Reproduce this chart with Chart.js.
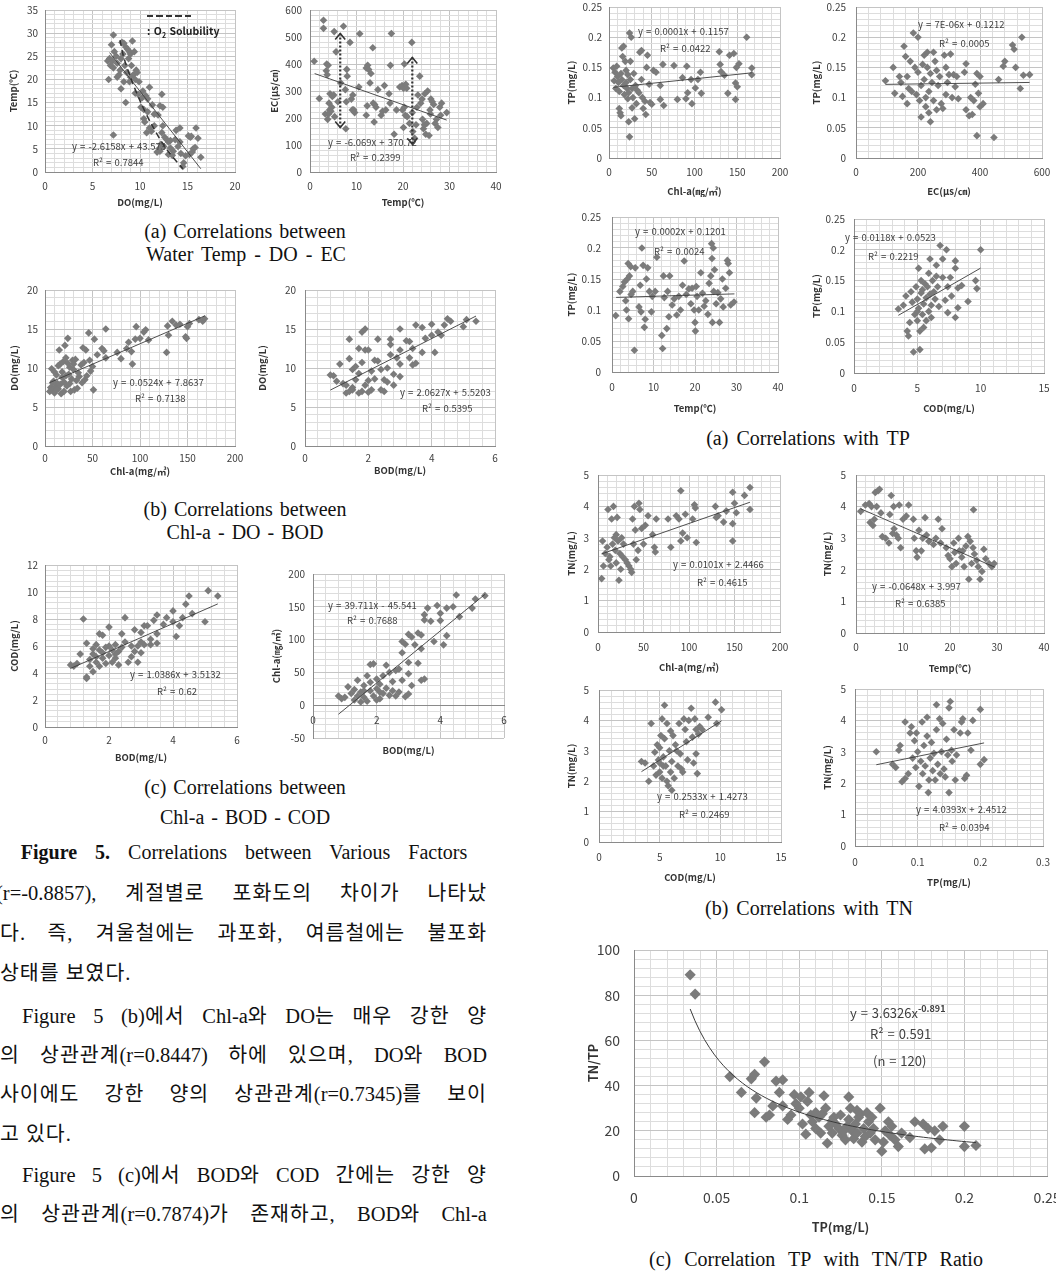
<!DOCTYPE html>
<html>
<head>
<meta charset="utf-8">
<script src="https://cdn.jsdelivr.net/npm/chart.js@4.4.0/dist/chart.umd.min.js"></script>
<style>
  body { margin: 0; width: 1056px; height: 1274px; position: relative; background: #fff; overflow: hidden; }
  canvas { position: absolute; }
  .note { position: absolute; white-space: pre; font-family: "Noto Sans CJK KR", "Noto Sans", sans-serif; color: #404040; word-spacing: 1px; }
  .cap { position: absolute; font-family: "Liberation Serif", "Times New Roman", serif; font-size: 20px; line-height: 24px; color: #111; text-align: center; white-space: pre; }
  .line { position: absolute; font-family: "Liberation Serif", "Noto Sans CJK KR", serif; font-size: 20.5px; line-height: 26px; letter-spacing: 1px; color: #111; text-align: justify; text-align-last: justify; }
  .line.last { text-align-last: left; }
  .line .lat { letter-spacing: 0; }
</style>
</head>
<body>
<script>
// ---- data: [x, y] pairs ----
const doTemp = [[7.2,29.6],[7.0,27.5],[7.3,26],[7.5,25],[7.1,24],[6.8,24.5],[6.6,24],[6.9,23],[7.2,22.5],[7.6,23.5],[7.9,22],[8.1,28],[8.3,27.8],[8.5,27],[8.7,26.5],[8.9,26],[8.2,25.5],[8.0,24.5],[8.4,23],[8.6,21.5],[8.8,24.5],[9.0,25.5],[9.2,28.3],[9.4,26],[9.1,23],[9.3,21],[9.6,22],[9.7,21.5],[9.5,20],[8.9,19.5],[8.3,19.5],[7.6,20.5],[7.8,21],[9.9,19.5],[9.0,20.5],[6.7,20],[8.0,18],[8.5,15],[7.2,8],[9.5,17],[9.8,16.8],[10.3,17.5],[10.6,16.5],[11.0,18.3],[10.2,16],[10.8,15.8],[10.1,14],[10.4,13.5],[10.8,13],[11.3,14.5],[11.5,12.5],[12.1,14.3],[12.3,16.8],[12.4,14],[11.9,12.3],[10.4,11.5],[10.5,10.8],[10.7,8.5],[11.0,9.5],[11.5,10],[11.2,8.8],[12.4,10],[12.3,8.5],[12.6,7.5],[12.8,7],[13.0,6.5],[12.2,6],[12.0,5],[11.8,4.3],[12.1,4.5],[12.5,5.5],[13.2,5.2],[13.0,3.8],[13.4,3.6],[13.7,7],[13.8,9],[14.2,9.5],[13.5,4.5],[14.0,5.5],[14.3,4],[14.6,2],[14.5,1.2],[14.8,3.5],[15.1,7.8],[15.3,7.5],[15.4,7.7],[15.6,5],[15.8,5.3],[15.9,9.5],[16.1,7.3],[16.4,3.2],[15.5,4.3],[15.2,3.8],[14.2,6.5],[13.2,6.8]];
const o2Sol = [[7.9,28.5],[8.26,25],[9.09,20],[10.08,15],[11.29,10],[12.77,5],[14.5,0.7]];

const tempEc = [[0.9,410],[2,272],[2.9,562],[2.9,532],[3.6,400],[3.9,395],[3.5,375],[3.7,360],[3.3,215],[3.8,195],[4.2,230],[4.5,225],[4.1,255],[4.3,290],[4.8,280],[5.1,285],[5.2,520],[5.6,445],[4.0,215],[4.7,240],[5.3,205],[6.0,260],[6.6,330],[7.2,540],[7.6,305],[7.9,380],[8.0,355],[7.8,260],[7.7,160],[8.6,480],[8.9,270],[9.2,285],[9.4,230],[9.6,220],[9.1,230],[10.5,315],[10.7,512],[12.1,385],[12.4,395],[12.6,380],[12.9,330],[13.1,365],[13.5,460],[13.6,255],[13.9,250],[14.2,240],[14.6,305],[13.8,185],[12.1,210],[12.3,245],[15.3,210],[15.6,225],[16,320],[16.3,230],[17.0,290],[17.2,255],[17.3,395],[17.5,513],[18.1,140],[18.6,230],[19.3,315],[19.8,320],[20.1,310],[20.3,400],[20.6,325],[20.8,310],[19.9,230],[20.3,240],[20.5,210],[20.1,165],[20.9,205],[21.4,180],[21.9,480],[22.1,150],[22.5,125],[22.8,175],[22.0,220],[23.0,240],[23.2,285],[23.6,355],[23.8,255],[24.1,270],[24.4,160],[24.6,175],[24.9,140],[24.2,195],[25.1,180],[25.3,300],[25.6,135],[25.8,230],[26.0,270],[26.3,260],[26.6,250],[26.9,180],[27.2,195],[27.5,165],[27.9,240],[28.3,255],[29.4,220],[28.1,210],[25.9,215],[24.7,290]];
const ecArrows = [[6.5,165,513],[22,103,424]];

const chlDo = [[5,7],[6,7.5],[7,9.9],[8,7.2],[9,8.3],[10,6.8],[11,7.6],[12,9.1],[13,8.0],[14,7.3],[15,12.3],[16,10.5],[17,6.7],[18,9.5],[19,10.8],[20,8.2],[21,12.9],[22,11.3],[23,7.7],[24,13.8],[25,9.2],[26,10.1],[27,7.0],[28,8.6],[29,11.0],[30,9.8],[31,7.2],[32,11.1],[33,8.4],[35,9.4],[36,8.9],[38,10.4],[39,8.1],[40,12.6],[41,10.7],[42,8.5],[43,12.3],[44,9.0],[46,14.5],[47,11.0],[48,9.6],[50,10.2],[51,7.2],[52,13.7],[55,11.7],[60,12.5],[62,12.2],[64,15.0],[64,11.3],[76,12.0],[80,11.2],[86,12.5],[88,13.3],[91,12.1],[92,10.5],[95,13.7],[96,15.3],[100,13.8],[104,14.6],[106,14.9],[109,13.6],[128,12.0],[129,15.4],[130,14.2],[134,16.0],[138,15.5],[142,15.6],[148,14.0],[149,13.8],[150,15.3],[152,15.7],[162,16.2],[166,16.0],[168,16.3],[10,9.5],[14,10.3],[18,8.8],[22,9.0],[26,8.0],[8,8.1],[12,7.2],[16,7.9],[20,7.0],[24,10.6],[30,10.5],[34,7.4]];

const bodDo = [[0.8,9.1],[0.9,9.0],[1.0,8.3],[1.1,10.5],[1.3,7.8],[1.4,13.7],[1.4,11.2],[1.5,9.8],[1.3,6.8],[1.4,7.0],[1.5,7.5],[1.6,8.5],[1.6,10.2],[1.7,12.5],[1.7,9.3],[1.8,10.7],[1.8,14.6],[1.9,15.0],[1.9,12.3],[1.8,7.0],[1.9,7.8],[2.0,8.4],[2.0,6.9],[2.0,12.3],[2.1,9.6],[2.1,7.2],[2.2,11.0],[2.3,13.7],[2.3,10.9],[2.2,8.6],[2.4,9.8],[2.4,7.2],[2.5,7.0],[2.5,8.5],[2.6,10.0],[2.7,13.7],[2.7,13.0],[2.7,11.7],[2.8,9.2],[2.8,7.8],[2.9,11.3],[3.0,12.3],[3.0,10.5],[3.0,8.9],[3.0,15.0],[3.2,13.5],[3.3,13.4],[3.3,11.3],[3.4,12.5],[3.4,10.4],[3.5,15.5],[3.5,10.6],[3.7,15.2],[3.7,12.0],[3.8,13.8],[4.0,15.6],[4.0,14.2],[4.1,12.0],[4.2,14.6],[4.3,14.2],[4.4,15.5],[4.5,16.3],[4.6,16.0],[5.0,15.3],[5.1,16.2],[5.4,16.0],[1.5,7.2],[1.7,6.8],[1.2,8.0],[2.6,8.2]];

const bodCod = [[0.8,4.6],[0.9,4.5],[1.0,4.7],[1.1,5.4],[1.2,8.0],[1.3,6.2],[1.3,3.7],[1.3,3.6],[1.4,4.5],[1.4,5.0],[1.5,5.4],[1.5,4.1],[1.6,6.1],[1.6,4.8],[1.7,5.7],[1.7,6.9],[1.7,4.5],[1.8,6.8],[1.8,5.1],[1.9,5.9],[1.9,4.7],[2.0,7.4],[2.0,6.0],[2.0,5.3],[2.1,5.7],[2.1,4.8],[2.2,5.1],[2.2,6.1],[2.3,5.6],[2.3,4.6],[2.4,6.9],[2.4,5.9],[2.5,8.1],[2.5,6.3],[2.6,4.8],[2.7,5.2],[2.7,6.0],[2.8,7.2],[2.8,5.6],[2.9,6.0],[2.9,4.8],[3.0,7.0],[3.0,5.5],[3.0,6.3],[3.1,7.5],[3.1,6.1],[3.2,7.5],[3.3,6.5],[3.3,6.1],[3.4,7.9],[3.5,8.3],[3.5,6.9],[3.5,6.2],[3.7,7.6],[3.8,8.1],[4.0,8.6],[4.0,7.8],[4.1,6.7],[4.2,7.5],[4.3,8.1],[4.4,9.1],[4.5,9.7],[4.6,8.4],[5.0,7.8],[5.1,10.1],[5.4,9.7],[1.5,5.8],[1.8,5.5],[2.2,5.4],[1.6,5.2]];

const bodChl = [[0.8,14],[0.9,10],[1.0,12],[1.1,28],[1.2,18],[1.3,8],[1.3,24],[1.4,14],[1.4,38],[1.5,5],[1.5,20],[1.6,12],[1.6,30],[1.7,45],[1.7,6],[1.8,62],[1.8,22],[1.8,35],[1.9,63],[1.9,14],[2.0,40],[2.0,25],[2.1,10],[2.1,32],[2.2,18],[2.2,45],[2.3,61],[2.3,26],[2.4,50],[2.4,15],[2.5,36],[2.5,22],[2.6,53],[2.6,14],[2.7,55],[2.7,20],[2.8,38],[2.8,97],[2.8,80],[2.9,93],[2.9,13],[3.0,48],[3.0,65],[3.0,108],[3.0,17],[3.1,104],[3.1,30],[3.2,92],[3.3,110],[3.3,64],[3.4,107],[3.4,86],[3.4,38],[3.5,40],[3.5,130],[3.5,138],[3.6,148],[3.7,128],[3.8,97],[3.9,152],[4.0,140],[4.0,129],[4.1,92],[4.2,148],[4.2,106],[4.4,150],[4.5,168],[4.6,135],[5.0,148],[5.1,162],[5.4,167],[2.0,8],[1.6,22],[2.1,20]];

const chlTp = [[5,0.149],[6,0.128],[7,0.142],[8,0.115],[9,0.152],[10,0.135],[11,0.125],[12,0.082],[12,0.110],[13,0.075],[14,0.140],[14,0.070],[15,0.182],[15,0.130],[16,0.168],[17,0.185],[17,0.120],[18,0.105],[19,0.160],[20,0.145],[20,0.125],[21,0.115],[22,0.098],[22,0.138],[23,0.060],[23,0.108],[24,0.035],[24,0.207],[25,0.160],[25,0.130],[26,0.200],[27,0.083],[27,0.115],[28,0.100],[29,0.140],[30,0.065],[31,0.120],[32,0.090],[33,0.112],[35,0.108],[36,0.175],[38,0.178],[38,0.130],[39,0.100],[40,0.082],[42,0.094],[43,0.072],[44,0.150],[45,0.170],[47,0.122],[48,0.092],[50,0.089],[52,0.145],[55,0.142],[60,0.120],[60,0.097],[63,0.155],[64,0.087],[76,0.153],[80,0.097],[86,0.133],[90,0.098],[91,0.152],[92,0.108],[96,0.130],[97,0.090],[101,0.116],[104,0.130],[107,0.142],[108,0.107],[129,0.176],[130,0.155],[131,0.143],[135,0.137],[139,0.107],[141,0.170],[146,0.173],[148,0.124],[148,0.097],[149,0.150],[150,0.118],[152,0.156],[161,0.200],[167,0.149],[167,0.138]];

const ecTp = [[95,0.128],[120,0.150],[125,0.107],[140,0.135],[145,0.125],[150,0.102],[155,0.185],[160,0.168],[165,0.090],[165,0.135],[170,0.115],[175,0.160],[180,0.110],[185,0.207],[190,0.150],[195,0.105],[200,0.200],[200,0.142],[205,0.095],[210,0.120],[210,0.068],[215,0.155],[220,0.170],[220,0.130],[225,0.100],[225,0.085],[230,0.175],[230,0.150],[235,0.110],[235,0.075],[240,0.060],[240,0.140],[245,0.125],[250,0.175],[250,0.095],[255,0.160],[260,0.145],[260,0.080],[265,0.120],[270,0.135],[275,0.090],[280,0.082],[285,0.170],[290,0.150],[290,0.105],[295,0.125],[300,0.138],[305,0.172],[310,0.100],[315,0.138],[320,0.118],[325,0.135],[330,0.098],[350,0.142],[355,0.156],[355,0.080],[365,0.070],[370,0.100],[375,0.072],[380,0.095],[385,0.122],[390,0.140],[390,0.037],[395,0.107],[400,0.135],[400,0.085],[410,0.090],[445,0.034],[460,0.130],[475,0.152],[480,0.160],[505,0.187],[510,0.180],[515,0.150],[530,0.115],[535,0.200],[540,0.137],[560,0.138]];

const tempTp = [[0.9,0.091],[1.9,0.130],[2.6,0.138],[3,0.145],[3.3,0.115],[3.5,0.100],[3.7,0.150],[3.9,0.175],[4.0,0.086],[4.2,0.155],[4.5,0.170],[4.6,0.125],[5.0,0.130],[5.4,0.035],[5.6,0.168],[6.5,0.105],[6.8,0.140],[7.0,0.097],[7.2,0.200],[7.5,0.172],[7.8,0.072],[8.0,0.085],[8.3,0.150],[8.6,0.168],[9.0,0.130],[9.5,0.097],[9.7,0.122],[10.4,0.130],[10.8,0.185],[12.0,0.059],[12.2,0.038],[12.4,0.155],[12.6,0.120],[13.2,0.070],[13.4,0.130],[13.7,0.089],[13.9,0.155],[14.5,0.108],[15.0,0.118],[15.6,0.092],[16.1,0.122],[16.5,0.100],[17.0,0.140],[17.4,0.179],[17.9,0.125],[18.5,0.134],[19.0,0.110],[19.3,0.135],[19.8,0.100],[20.0,0.080],[20.1,0.066],[20.3,0.138],[20.5,0.122],[20.9,0.100],[21.4,0.160],[21.8,0.127],[22.2,0.106],[22.6,0.115],[23.1,0.093],[23.4,0.143],[23.8,0.155],[24.0,0.207],[24.1,0.183],[24.2,0.080],[24.4,0.200],[24.5,0.130],[24.7,0.165],[25.1,0.110],[25.5,0.128],[25.9,0.080],[26.2,0.118],[26.6,0.150],[26.8,0.105],[27.4,0.135],[27.8,0.180],[28.0,0.175],[28.3,0.160],[28.6,0.108],[29.4,0.113]];

const codTp = [[3.5,0.104],[3.9,0.110],[4.1,0.125],[4.2,0.068],[4.3,0.060],[4.4,0.082],[4.5,0.132],[4.6,0.115],[4.7,0.034],[4.8,0.095],[4.9,0.140],[5.0,0.120],[5.0,0.085],[5.1,0.170],[5.1,0.105],[5.2,0.038],[5.2,0.068],[5.3,0.150],[5.3,0.130],[5.4,0.095],[5.5,0.112],[5.5,0.074],[5.6,0.145],[5.7,0.122],[5.7,0.085],[5.8,0.140],[5.9,0.162],[5.9,0.100],[6.0,0.185],[6.0,0.128],[6.1,0.110],[6.2,0.150],[6.3,0.132],[6.5,0.175],[6.5,0.157],[6.6,0.140],[6.7,0.108],[6.8,0.207],[7.0,0.185],[7.0,0.155],[7.2,0.118],[7.3,0.200],[7.4,0.140],[7.4,0.098],[7.6,0.155],[7.7,0.125],[8.0,0.182],[8.0,0.170],[8.0,0.090],[8.2,0.106],[8.2,0.138],[8.5,0.142],[9.0,0.116],[9.6,0.150],[9.7,0.137],[10.0,0.200],[5.4,0.135],[6.1,0.090],[5.0,0.100],[6.4,0.120]];

const chlTn = [[4,1.7],[5,2.9],[6,2.1],[8,2.5],[10,2.7],[11,3.9],[12,2.3],[13,2.4],[14,2.1],[15,3.6],[16,2.8],[17,4.0],[18,3.0],[19,2.6],[20,3.1],[20,2.2],[21,3.65],[22,2.9],[23,1.65],[24,2.5],[25,2.0],[26,3.0],[27,2.4],[28,2.8],[30,2.3],[32,2.2],[34,2.1],[36,2.0],[37,1.9],[38,3.6],[39,2.8],[40,4.0],[41,3.25],[42,2.3],[44,2.6],[45,4.1],[46,3.9],[48,3.3],[50,2.8],[52,3.4],[55,3.7],[60,3.1],[62,2.7],[63,2.55],[64,3.6],[77,3.6],[80,2.7],[86,3.7],[89,3.6],[91,4.5],[91,2.9],[93,3.15],[96,3.75],[98,3.0],[104,3.6],[106,4.05],[107,3.95],[108,2.85],[129,4.0],[130,3.65],[132,3.7],[138,3.5],[141,3.85],[148,4.45],[148,3.45],[148,2.9],[150,4.1],[152,3.8],[161,4.35],[167,4.6],[167,3.9]];

const tempTn = [[1,3.85],[2,4.05],[2.8,4.1],[3.0,3.5],[3.3,4.0],[3.6,3.4],[3.9,3.6],[4.1,4.45],[4.4,4.0],[4.7,4.5],[5.0,4.55],[5.3,3.8],[5.6,3.05],[6.3,3.0],[7.0,2.85],[7.2,3.75],[7.5,4.35],[7.8,3.15],[8.0,4.0],[8.1,3.3],[8.6,3.1],[9.0,3.0],[9.2,4.05],[9.5,2.7],[10,3.6],[10.7,3.7],[11.2,4.05],[12.2,3.6],[12.4,3.0],[12.8,2.6],[13.0,2.4],[13.4,3.25],[13.9,2.6],[14.2,3.0],[14.7,3.65],[15.0,3.1],[15.5,2.9],[16.5,2.8],[17.0,3.0],[17.5,3.6],[18.0,2.85],[18.3,3.3],[19.2,2.7],[19.6,2.45],[20.0,2.35],[20.4,2.1],[20.8,2.85],[21.3,2.2],[21.8,3.0],[22.0,2.6],[22.5,2.4],[23.0,2.1],[23.4,2.75],[23.8,3.05],[24.0,1.7],[24.3,2.9],[24.6,2.2],[25.0,3.9],[25.2,2.5],[25.7,2.3],[26.0,2.1],[26.4,1.7],[26.8,1.95],[27.2,2.65],[27.6,2.35],[28.3,2.2],[28.9,2.1],[29.4,2.2],[22.7,2.6],[24.9,2.7],[21.0,2.55]];

const codTn = [[3.5,2.65],[3.8,2.6],[4.1,2.0],[4.3,3.9],[4.5,2.5],[4.6,2.95],[4.7,2.2],[4.8,3.2],[4.9,2.7],[5.0,3.1],[5.0,2.3],[5.1,3.5],[5.2,2.1],[5.2,4.05],[5.3,2.8],[5.4,4.5],[5.4,3.4],[5.5,2.5],[5.6,2.0],[5.6,3.9],[5.7,1.85],[5.8,3.0],[5.9,2.3],[5.9,3.65],[6.0,1.7],[6.0,2.65],[6.1,3.5],[6.2,2.1],[6.3,3.2],[6.5,2.5],[6.6,3.9],[6.7,2.9],[6.9,2.3],[7.0,4.05],[7.1,3.7],[7.3,2.7],[7.4,4.0],[7.6,4.4],[7.7,3.45],[7.8,2.6],[7.9,4.05],[8.0,3.7],[8.0,2.9],[8.1,2.25],[8.2,3.55],[8.5,3.7],[9.0,4.1],[9.6,4.6],[9.7,3.9],[10.1,4.35],[5.3,2.5],[6.4,3.0],[7.2,3.3],[8.3,3.8],[5.0,2.6],[6.8,2.4]];

const tpTn = [[0.034,3.0],[0.06,2.6],[0.065,2.5],[0.07,3.05],[0.072,3.2],[0.075,2.05],[0.08,2.15],[0.08,3.95],[0.085,2.3],[0.088,3.6],[0.09,3.8],[0.092,2.8],[0.095,3.35],[0.097,2.5],[0.098,3.6],[0.1,3.0],[0.102,1.9],[0.105,2.7],[0.107,3.95],[0.108,2.3],[0.11,3.2],[0.112,2.55],[0.115,4.1],[0.115,3.5],[0.117,1.7],[0.118,2.1],[0.12,2.8],[0.122,3.3],[0.124,2.4],[0.126,2.95],[0.128,2.1],[0.13,4.5],[0.13,3.7],[0.132,2.6],[0.135,4.05],[0.136,2.3],[0.138,3.0],[0.14,3.9],[0.142,2.45],[0.144,2.2],[0.146,3.4],[0.148,2.9],[0.15,1.7],[0.15,4.4],[0.152,4.6],[0.154,3.05],[0.155,2.7],[0.158,3.7],[0.16,2.1],[0.162,2.9],[0.168,3.6],[0.17,3.95],[0.172,4.05],[0.175,2.15],[0.178,2.25],[0.18,3.6],[0.185,3.05],[0.188,4.0],[0.2,4.35],[0.2,2.6],[0.206,2.75]];

const tpRatio = [[0.034,89],[0.037,80.5],[0.058,44],[0.065,37],[0.071,43],[0.073,45],[0.073,28],[0.074,34.5],[0.079,50.5],[0.08,26],[0.082,27],[0.084,31],[0.086,42],[0.088,37],[0.09,42.5],[0.09,31],[0.093,25],[0.095,27],[0.097,36],[0.098,32],[0.1,30],[0.101,35],[0.102,23],[0.104,18.5],[0.105,33],[0.106,37],[0.107,27],[0.108,24],[0.11,21],[0.112,26],[0.113,19],[0.114,27.5],[0.115,35.5],[0.116,30],[0.117,14.5],[0.118,22],[0.12,19],[0.121,26],[0.122,23],[0.124,21],[0.125,27],[0.126,18],[0.128,16],[0.129,22],[0.13,35],[0.13,25],[0.131,30],[0.132,20],[0.133,16.5],[0.134,23],[0.135,19],[0.136,26],[0.137,27.5],[0.138,15],[0.139,21],[0.14,17.5],[0.141,28],[0.142,24],[0.143,19],[0.144,26],[0.145,21],[0.149,30],[0.15,11],[0.151,15],[0.152,20],[0.154,24],[0.156,22],[0.158,16],[0.16,13],[0.162,19],[0.167,17],[0.17,24],[0.175,23],[0.176,12],[0.178,21],[0.18,12.5],[0.182,20],[0.185,16],[0.187,22],[0.2,22],[0.2,13],[0.207,13.5],[0.12,24.5],[0.11,28],[0.127,20],[0.146,16],[0.155,18],[0.135,29]];

// printed power fit for TN/TP
const powerFit = [3.6326, -0.891];
const powerRange = [0.034, 0.207];

const FONT = '"Noto Sans CJK KR", "Noto Sans", sans-serif';
Chart.defaults.font.family = FONT;

function isMajor(v, major) { const r = v / major; return Math.abs(r - Math.round(r)) < 1e-6; }
function fmt(v) { return String(Math.round(v * 1e6) / 1e6); }
function zero(s) { s.paddingLeft = 0; s.paddingRight = 0; s.paddingTop = 0; s.paddingBottom = 0; }
function pts(a) { return a.map(p => ({ x: p[0], y: p[1] })); }

function axis(r, size, pad) {
  const [min, max, minor, major] = r;
  return {
    type: 'linear', min, max,
    ticks: {
      stepSize: minor, autoSkip: false, maxRotation: 0, padding: pad, color: '#404040',
      font: { size }, callback: v => isMajor(v, major) ? fmt(v) : ''
    },
    grid: { drawTicks: false, lineWidth: 1, color: c => isMajor(c.tick.value, major) ? '#c4c4c4' : '#dddddd' },
    border: { color: '#8a8a8a' }
  };
}

function note(x, y, text, size, extra) {
  const d = document.createElement('div');
  d.className = 'note';
  d.innerHTML = text;
  d.style.left = x + 'px';
  d.style.top = (y - size * 0.7) + 'px';
  d.style.fontSize = size + 'px';
  d.style.lineHeight = (size * 1.4) + 'px';
  if (extra) Object.assign(d.style, extra);
  document.body.appendChild(d);
}

const arrowPlugin = {
  id: 'arrows',
  afterDatasetsDraw(chart) {
    const { ctx, scales: { x, y } } = chart;
    ctx.save();
    ctx.strokeStyle = '#333';
    ecArrows.forEach(a => {
      const px = x.getPixelForValue(a[0]);
      const lo = y.getPixelForValue(a[1]), hi = y.getPixelForValue(a[2]);
      ctx.lineWidth = 2.2; ctx.setLineDash([2, 2]);
      ctx.beginPath(); ctx.moveTo(px, hi); ctx.lineTo(px, lo); ctx.stroke();
      ctx.setLineDash([]); ctx.lineWidth = 1.6;
      ctx.beginPath(); ctx.moveTo(px - 5, hi + 6); ctx.lineTo(px, hi); ctx.lineTo(px + 5, hi + 6); ctx.stroke();
      ctx.beginPath(); ctx.moveTo(px - 5, lo - 6); ctx.lineTo(px, lo); ctx.lineTo(px + 5, lo - 6); ctx.stroke();
    });
    ctx.restore();
  }
};

function build(c) {
  const big = !!c.big;
  const tk = big ? 14 : 10, ts = big ? 12.5 : 9.5;
  const cl = Math.round(c.yTitleX - ts * 0.6);
  const ct = c.T - 10;
  const cr = c.R + 18;
  const cb = Math.round(c.xTitleY + ts * 0.6);
  const yw = c.L - cl, xh = cb - c.B;
  const cv = document.createElement('canvas');
  cv.width = cr - cl; cv.height = cb - ct;
  cv.style.left = cl + 'px'; cv.style.top = ct + 'px';
  document.body.appendChild(cv);

  const datasets = [{
    data: pts(c.pts), pointStyle: 'rectRot', pointRadius: big ? 5.6 : 3.8,
    backgroundColor: '#7b7b7b', borderWidth: 0, hoverRadius: 0, order: 2
  }];
  if (c.fit) datasets.push({ type: 'line', data: pts(c.fit), borderColor: '#3c3c3c', borderWidth: 0.9, pointRadius: 0, fill: false, tension: 0, order: 1 });
  (c.extra || []).forEach(d => datasets.push(Object.assign({ order: 0 }, d)));

  const titleFont = { size: ts, weight: 'bold' };
  const x = axis(c.x, tk, c.xPad !== undefined ? c.xPad : c.xLabY - c.B - tk * 0.6);
  const y = axis(c.y, tk, c.L - c.yLabR);
  y.title = { display: true, text: c.yTitle, font: titleFont, color: '#333', padding: 0 };
  y.afterFit = s => { s.width = yw; zero(s); };
  const scales = { x, y };
  if (c.xAtZero) {
    x.position = { y: 0 };
    scales.x2 = {
      type: 'linear', position: 'bottom', min: c.x[0], max: c.x[1],
      ticks: { display: false }, grid: { display: false, drawTicks: false }, border: { display: false },
      title: { display: true, text: c.xTitle, font: titleFont, color: '#333', padding: 0 },
      afterFit: s => { s.height = xh; zero(s); }
    };
  } else {
    x.title = { display: true, text: c.xTitle, font: titleFont, color: '#333', padding: 0 };
    x.afterFit = s => { s.height = xh; zero(s); };
  }

  new Chart(cv, {
    type: 'scatter',
    data: { datasets },
    options: {
      responsive: false, animation: false, devicePixelRatio: 1, events: [],
      layout: { padding: { top: c.T - ct, right: cr - c.R, left: 0, bottom: 0 } },
      plugins: { legend: { display: false }, tooltip: { enabled: false } },
      scales
    },
    plugins: c.plugins || []
  });
  (c.eq || []).forEach(e => note(e[0], e[1], e[2], big ? 13 : 9.5));
}

const charts = [
  { pts: doTemp, L: 45, R: 235, T: 10, B: 172, yTitleX: 14, yLabR: 38, xLabY: 186, xTitleY: 202,
    x: [0, 20, 1, 5], y: [0, 35, 1, 5], xTitle: 'DO(mg/L)', yTitle: 'Temp(℃)',
    fit: [[6.8, 25.8], [16.4, 0.7]],
    extra: [{ type: 'line', data: pts(o2Sol), borderColor: '#333', borderWidth: 1.5, borderDash: [6, 4], pointRadius: 0, fill: false, tension: 0.3 }],
    eq: [[72, 147, 'y = -2.6158x + 43.573'], [93, 163, 'R² = 0.7844']] },
  { pts: tempEc, L: 310, R: 496, T: 10, B: 172, yTitleX: 275, yLabR: 302, xLabY: 186, xTitleY: 202,
    x: [0, 40, 2, 10], y: [0, 600, 20, 100], xTitle: 'Temp(℃)', yTitle: 'EC(μs/㎝)',
    fit: [[1, 364.6], [29.4, 192.3]], plugins: [arrowPlugin],
    eq: [[328, 143, 'y = -6.069x + 370.72'], [350, 158, 'R² = 0.2399']] },
  { pts: chlDo, L: 45, R: 235, T: 290, B: 446, yTitleX: 15, yLabR: 38, xLabY: 458, xTitleY: 471,
    x: [0, 200, 10, 50], y: [0, 20, 1, 5], xTitle: 'Chl-a(mg/㎥)', yTitle: 'DO(mg/L)',
    fit: [[5, 8.13], [168, 16.67]],
    eq: [[113, 383, 'y = 0.0524x + 7.8637'], [135, 399, 'R² = 0.7138']] },
  { pts: bodDo, L: 305, R: 495, T: 290, B: 446, yTitleX: 263, yLabR: 296, xLabY: 458, xTitleY: 470,
    x: [0, 6, 0.4, 2], y: [0, 20, 1, 5], xTitle: 'BOD(mg/L)', yTitle: 'DO(mg/L)',
    fit: [[0.8, 7.17], [5.4, 16.66]],
    eq: [[400, 393, 'y = 2.0627x + 5.5203'], [422, 409, 'R² = 0.5395']] },
  { pts: bodCod, L: 45, R: 237, T: 565, B: 727, yTitleX: 15, yLabR: 38, xLabY: 740, xTitleY: 757,
    x: [0, 6, 0.4, 2], y: [0, 12, 0.4, 2], xTitle: 'BOD(mg/L)', yTitle: 'COD(mg/L)',
    fit: [[0.8, 4.34], [5.4, 9.12]],
    eq: [[130, 675, 'y = 1.0386x + 3.5132'], [157, 692, 'R² = 0.62']] },
  { pts: bodChl, L: 313, R: 504, T: 574, B: 738, yTitleX: 277, yLabR: 305, xLabY: 720, xTitleY: 750, xPad: 9, xAtZero: true,
    x: [0, 6, 0.4, 2], y: [-50, 200, 10, 50], xTitle: 'BOD(mg/L)', yTitle: 'Chl-a(㎎/㎥)',
    fit: [[0.8, -13.8], [5.4, 168.9]],
    eq: [[328, 606, 'y = 39.711x - 45.541'], [347, 621, 'R² = 0.7688']] },
  { pts: chlTp, L: 609, R: 780, T: 7, B: 158, yTitleX: 572, yLabR: 602, xLabY: 172, xTitleY: 191,
    x: [0, 200, 10, 50], y: [0, 0.25, 0.01, 0.05], xTitle: 'Chl-a(㎎/㎥)', yTitle: 'TP(mg/L)',
    fit: [[5, 0.117], [167, 0.141]],
    eq: [[638, 32, 'y = 0.0001x + 0.1157'], [660, 49, 'R² = 0.0422']] },
  { pts: ecTp, L: 856, R: 1042, T: 7, B: 158, yTitleX: 817, yLabR: 846, xLabY: 172, xTitleY: 191,
    x: [0, 600, 40, 200], y: [0, 0.25, 0.01, 0.05], xTitle: 'EC(μs/㎝)', yTitle: 'TP(mg/L)',
    fit: [[95, 0.1219], [560, 0.1251]],
    eq: [[918, 25, 'y = 7E-06x + 0.1212'], [939, 44, 'R² = 0.0005']] },
  { pts: tempTp, L: 612, R: 778, T: 217, B: 372, yTitleX: 572, yLabR: 601, xLabY: 387, xTitleY: 408,
    x: [0, 40, 2, 10], y: [0, 0.25, 0.01, 0.05], xTitle: 'Temp(℃)', yTitle: 'TP(mg/L)',
    fit: [[1, 0.1203], [29.5, 0.126]],
    eq: [[635, 232, 'y = 0.0002x + 0.1201'], [654, 252, 'R² = 0.0024']] },
  { pts: codTp, L: 854, R: 1044, T: 219, B: 373, yTitleX: 817, yLabR: 845, xLabY: 388, xTitleY: 408,
    x: [0, 15, 1, 5], y: [0, 0.25, 0.01, 0.05], xTitle: 'COD(mg/L)', yTitle: 'TP(mg/L)',
    fit: [[3.5, 0.0936], [10, 0.1703]],
    eq: [[845, 238, 'y = 0.0118x + 0.0523'], [868, 257, 'R² = 0.2219']] },
  { pts: chlTn, L: 598, R: 780, T: 475, B: 632, yTitleX: 572, yLabR: 589, xLabY: 647, xTitleY: 667,
    x: [0, 200, 10, 50], y: [0, 5, 0.2, 1], xTitle: 'Chl-a(mg/㎥)', yTitle: 'TN(mg/L)',
    fit: [[4, 2.487], [167, 4.133]],
    eq: [[673, 565, 'y = 0.0101x + 2.4466'], [697, 583, 'R² = 0.4615']] },
  { pts: tempTn, L: 856, R: 1044, T: 475, B: 633, yTitleX: 828, yLabR: 846, xLabY: 647, xTitleY: 668,
    x: [0, 40, 2, 10], y: [0, 5, 0.2, 1], xTitle: 'Temp(℃)', yTitle: 'TN(mg/L)',
    fit: [[1, 3.93], [29.5, 2.086]],
    eq: [[872, 587, 'y = -0.0648x + 3.997'], [895, 604, 'R² = 0.6385']] },
  { pts: codTn, L: 599, R: 781, T: 690, B: 842, yTitleX: 572, yLabR: 589, xLabY: 857, xTitleY: 877,
    x: [0, 15, 1, 5], y: [0, 5, 0.2, 1], xTitle: 'COD(mg/L)', yTitle: 'TN(mg/L)',
    fit: [[3.5, 2.314], [10.1, 3.986]],
    eq: [[657, 797, 'y = 0.2533x + 1.4273'], [679, 815, 'R² = 0.2469']] },
  { pts: tpTn, L: 855, R: 1043, T: 689, B: 846, yTitleX: 828, yLabR: 846, xLabY: 862, xTitleY: 882,
    x: [0, 0.3, 0.02, 0.1], y: [0, 5, 0.2, 1], xTitle: 'TP(mg/L)', yTitle: 'TN(mg/L)',
    fit: [[0.034, 2.588], [0.206, 3.283]],
    eq: [[916, 810, 'y = 4.0393x + 2.4512'], [939, 828, 'R² = 0.0394']] },
];

// TN/TP power trend drawn from the printed equation
const curve = [];
for (let i = 0; i <= 60; i++) {
  const xv = powerRange[0] + (powerRange[1] - powerRange[0]) * i / 60;
  curve.push([xv, powerFit[0] * Math.pow(xv, powerFit[1])]);
}
charts.push({ big: true, pts: tpRatio, L: 634, R: 1047, T: 950, B: 1176, yTitleX: 593, yLabR: 620, xLabY: 1198, xTitleY: 1227,
  x: [0, 0.25, 0.01, 0.05], y: [0, 100, 4, 20], xTitle: 'TP(mg/L)', yTitle: 'TN/TP',
  extra: [{ type: 'line', data: pts(curve), borderColor: '#3c3c3c', borderWidth: 1, pointRadius: 0, fill: false, tension: 0 }],
  eq: [[850, 1009, 'y = 3.6326x<sup style="font-size:9px;font-weight:bold;vertical-align:6px">-0.891</sup>'], [870, 1034, 'R² = 0.591'], [873, 1061, '(n = 120)']] });

charts.forEach(build);

// O2 solubility key
const key = document.createElement('div');
key.style.cssText = 'position:absolute;left:147px;top:15px;width:44px;height:1.5px;background:repeating-linear-gradient(to right,#333 0 6px,transparent 6px 9.5px);';
document.body.appendChild(key);
note(147, 31, ': O<sub style="font-size:7px">2</sub> Solubility', 10.5, { fontWeight: 'bold', color: '#222' });

// captions
function cap(cx, y, text, w) {
  const d = document.createElement('div');
  d.className = 'cap';
  d.innerHTML = text;
  d.style.left = (cx - 250) + 'px';
  d.style.width = '500px';
  d.style.top = (y - 12) + 'px';
  if (w) d.style.wordSpacing = w + 'px';
  document.body.appendChild(d);
}
cap(245, 231, '(a) Correlations between', 2);
cap(246, 254, 'Water Temp - DO - EC', 3);
cap(245, 509, '(b) Correlations between', 2);
cap(245, 532, 'Chl-a - DO - BOD', 2);
cap(245, 787, '(c) Correlations between', 2);
cap(245, 817, 'Chl-a - BOD - COD', 2);
cap(244, 852, '<b>Figure 5.</b> Correlations between Various Factors', 13);
cap(808, 438, '(a) Correlations with TP', 3);
cap(809, 908, '(b) Correlations with TN', 3);
cap(816, 1259, '(c) Correlation TP with TN/TP Ratio', 8);

// body text
const lines = [
  [-4, 893, 491, '(r=-0.8857), 계절별로 포화도의 차이가 나타났', false],
  [0, 933, 487, '다. 즉, 겨울철에는 과포화, 여름철에는 불포화', false],
  [0, 973, 487, '상태를 보였다.', true],
  [22, 1016, 465, 'Figure 5 (b)에서 Chl-a와 DO는 매우 강한 양', false],
  [0, 1055, 487, '의 상관관계(r=0.8447) 하에 있으며, DO와 BOD', false],
  [0, 1094, 487, '사이에도 강한 양의 상관관계(r=0.7345)를 보이', false],
  [0, 1134, 487, '고 있다.', true],
  [22, 1175, 465, 'Figure 5 (c)에서 BOD와 COD 간에는 강한 양', false],
  [0, 1214, 487, '의 상관관계(r=0.7874)가 존재하고, BOD와 Chl-a', false],
];
lines.forEach(l => {
  const d = document.createElement('div');
  d.className = 'line' + (l[4] ? ' last' : '');
  d.innerHTML = l[3].replace(/([A-Za-z0-9().=\-]+)/g, '<span class="lat">$1</span>');
  d.style.left = l[0] + 'px';
  d.style.top = (l[1] - 13) + 'px';
  d.style.width = l[2] + 'px';
  document.body.appendChild(d);
});
</script>
</body>
</html>
